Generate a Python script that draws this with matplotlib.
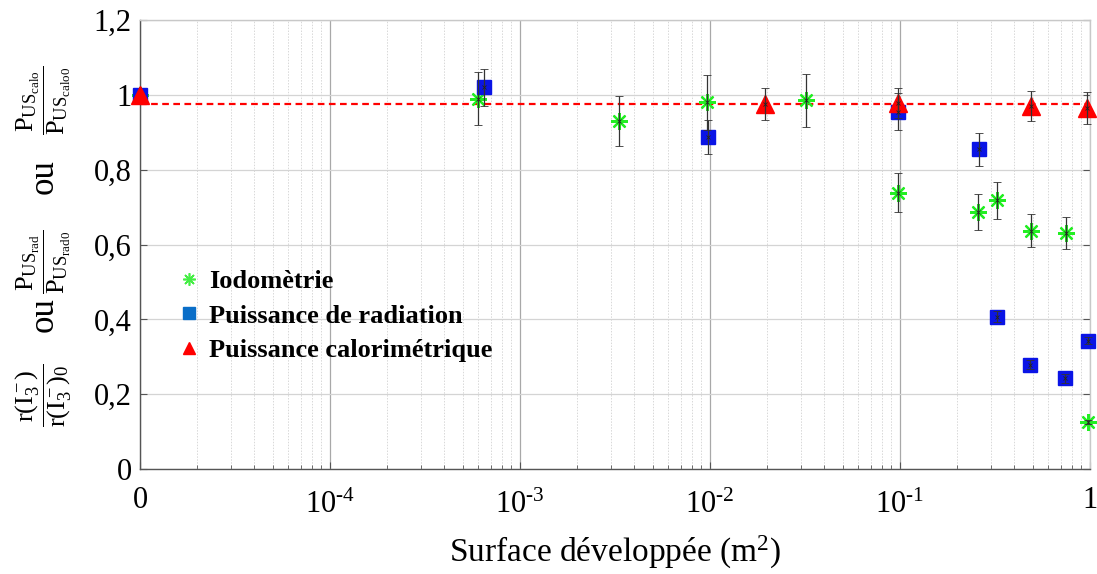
import numpy as np
import matplotlib
matplotlib.use("Agg")
import matplotlib.pyplot as plt
from matplotlib.lines import Line2D
from matplotlib.ticker import LogLocator, NullFormatter
from matplotlib.transforms import ScaledTranslation

plt.rcParams['font.family'] = ['Liberation Serif', 'DejaVu Serif']
plt.rcParams['mathtext.fontset'] = 'custom'
plt.rcParams['mathtext.rm'] = 'Liberation Serif'
plt.rcParams['mathtext.it'] = 'Liberation Serif:italic'
plt.rcParams['mathtext.bf'] = 'Liberation Serif:bold'

# ---- data ----
x_iod = [1e-5, 6.0e-4, 3.3e-3, 9.7e-3, 0.032, 0.098, 0.258, 0.323, 0.489, 0.744, 0.98]
y_iod = [1.0, 0.99, 0.93, 0.98, 0.985, 0.738, 0.687, 0.718, 0.637, 0.630, 0.126]
e_iod = [0.0, 0.07, 0.067, 0.073, 0.07, 0.052, 0.048, 0.05, 0.045, 0.043, 0.006]

x_rad = [1e-5, 6.5e-4, 9.8e-3, 0.098, 0.261, 0.323, 0.486, 0.74, 0.98]
y_rad = [1.0, 1.02, 0.888, 0.955, 0.855, 0.407, 0.278, 0.242, 0.343]
e_rad = [0.0, 0.05, 0.046, 0.05, 0.044, 0.015, 0.012, 0.012, 0.01]

x_cal = [1e-5, 0.0194, 0.098, 0.489, 0.96]
y_cal = [1.0, 0.975, 0.977, 0.97, 0.965]
e_cal = [0.0, 0.043, 0.04, 0.041, 0.043]

ref_level = 0.975

xticks = [1e-5, 1e-4, 1e-3, 1e-2, 1e-1, 1]
xticklabels = ['0', r'$\mathregular{10^{\text{-}4}}$', r'$\mathregular{10^{\text{-}3}}$',
               r'$\mathregular{10^{\text{-}2}}$', r'$\mathregular{10^{\text{-}1}}$', '1']
yticks = [0, 0.2, 0.4, 0.6, 0.8, 1.0, 1.2]
yticklabels = ['0', '0,2', '0,4', '0,6', '0,8', '1', '1,2']

legend_labels = ['Iodomètrie', 'Puissance de radiation', 'Puissance calorimétrique']

# ---- figure ----
fig = plt.figure(figsize=(10.97, 5.74), dpi=100)
ax = fig.add_axes([140/1097, 1-469/574, 950/1097, 449/574])
ax.set_xscale('log')
ax.set_xlim(1e-5, 1)
ax.set_ylim(0, 1.2)

GREEN = '#22ee22'
BLUE = '#0a14e6'
RED = '#ff0000'
ast = (8, 2, 0)

ax.axhline(ref_level, color=RED, ls=(0, (3, 2)), lw=1.6, zorder=2)

ax.plot(x_iod, y_iod, ls='none', marker=ast, ms=12, mew=1.6, color=GREEN, zorder=3, clip_on=False)
ax.plot(x_rad, y_rad, ls='none', marker='s', ms=10, color=BLUE, mec=BLUE, zorder=3, clip_on=False)
ax.plot(x_cal, y_cal, ls='none', marker='^', ms=13, color=RED, mec=RED, zorder=3, clip_on=False)

for xs, ys, es in [(x_iod, y_iod, e_iod), (x_rad, y_rad, e_rad), (x_cal, y_cal, e_cal)]:
    xs_e = [x for x, e in zip(xs, es) if e > 0]
    ys_e = [y for y, e in zip(ys, es) if e > 0]
    ee = [e for e in es if e > 0]
    cont = ax.errorbar(xs_e, ys_e, yerr=ee, fmt='x', ms=3, mew=0.6, color='#222222',
                       ecolor='#333333', elinewidth=0.9, capsize=3, capthick=0.9, zorder=4)
    for art in cont.get_children():
        art.set_clip_on(False)

# grid / ticks
ax.set_xticks(xticks)
ax.set_xticklabels(xticklabels)
ax.xaxis.set_minor_locator(LogLocator(base=10, subs=np.arange(2, 10), numticks=20))
ax.xaxis.set_minor_formatter(NullFormatter())
ax.set_yticks(yticks)
ax.set_yticklabels(yticklabels)
ax.grid(True, which='major', axis='y', color='#d4d4d4', lw=0.9, zorder=0)
ax.grid(True, which='major', axis='x', color='#a8a8a8', lw=0.9, zorder=0)
ax.grid(True, which='minor', axis='x', color='#d8d8d8', lw=0.7, ls=(0, (1.5, 1.5)), zorder=0)
ax.set_axisbelow(True)

ax.tick_params(axis='both', which='both', direction='in', labelsize=22,
               right=True, top=False, color='#555555')
ax.tick_params(which='major', length=5)
ax.tick_params(which='minor', length=3)
ax.tick_params(axis='x', pad=12)
ax.tick_params(axis='y', pad=6)

for s in ['left', 'bottom']:
    ax.spines[s].set_color('#555555')
    ax.spines[s].set_linewidth(1.0)
for s in ['top', 'right']:
    ax.spines[s].set_color('#c8c8c8')
    ax.spines[s].set_linewidth(1.0)

ax.set_xlabel(r'Surface développée (m$\mathregular{^2}$)', fontsize=24, labelpad=10)

# legend
handles = [
    Line2D([], [], ls='none', marker=ast, ms=9, mew=1.2, color='#44ee44'),
    Line2D([], [], ls='none', marker='s', ms=8, color='#0a6ec8'),
    Line2D([], [], ls='none', marker='^', ms=9, color=RED),
]
leg = ax.legend(handles, legend_labels, loc='upper left',
                bbox_to_anchor=((171-140)/950, (469-259)/449),
                frameon=False, prop={'weight': 'bold', 'size': 19},
                handlelength=0.6, handletextpad=0.45, labelspacing=0.42,
                borderaxespad=0)

# y label (stacked fractions)
fs_frac = 19
fs_ou = 25
xl = 44/1097
fig.text(xl, 1-395/574, r'$\dfrac{\mathrm{r(I_3^-)}}{\mathrm{r(I_3^-)_0}}$',
         rotation=90, ha='center', va='center', fontsize=fs_frac)
fig.text(xl, 1-315/574, 'ou', rotation=90, ha='center', va='center', fontsize=fs_ou)
fig.text(xl, 1-262/574, r'$\dfrac{\mathrm{P_{US_{rad}}}}{\mathrm{P_{US_{rad0}}}}$',
         rotation=90, ha='center', va='center', fontsize=fs_frac)
fig.text(xl, 1-177/574, 'ou', rotation=90, ha='center', va='center', fontsize=fs_ou)
fig.text(xl, 1-100/574, r'$\dfrac{\mathrm{P_{US_{calo}}}}{\mathrm{P_{US_{calo0}}}}$',
         rotation=90, ha='center', va='center', fontsize=fs_frac)

# shift the power-of-ten tick labels slightly down (as in reference)
fig.canvas.draw()
for t in ax.xaxis.get_major_ticks()[1:5]:
    t.label1.set_transform(t.label1.get_transform() +
                           ScaledTranslation(0, -4/72, fig.dpi_scale_trans))

fig.savefig('out.png', dpi=100)
